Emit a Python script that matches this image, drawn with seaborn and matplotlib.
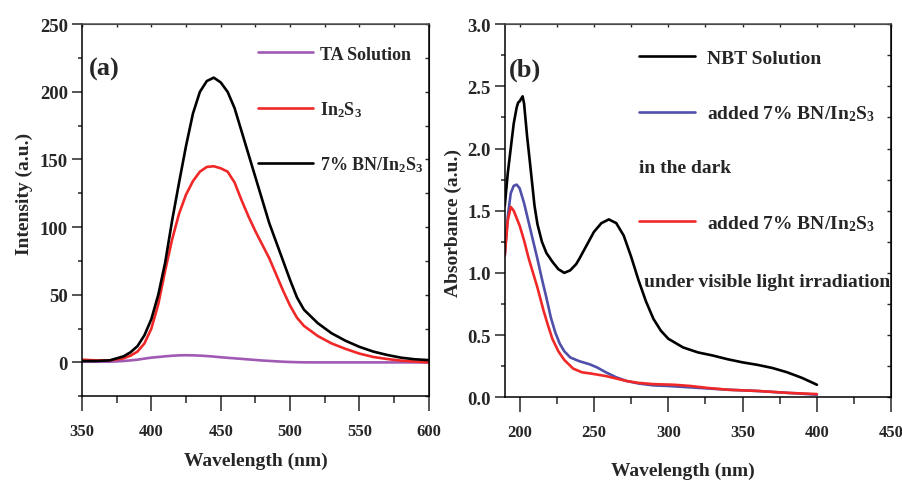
import seaborn as sns
import matplotlib.pyplot as plt
from matplotlib.lines import Line2D
from matplotlib.ticker import MultipleLocator
from matplotlib.font_manager import FontProperties

# (a) fluorescence of TA
wl_a = [350, 360, 370, 380, 385, 390, 395, 400, 405, 410, 415, 420, 425, 430, 435,
        440, 445, 450, 455, 460, 465, 470, 475, 480, 485, 490, 495, 500, 505, 510,
        520, 530, 540, 550, 560, 570, 580, 590, 600]
ta_sol = [0.5, 0.5, 0.5, 1, 1.5, 2, 2.8, 3.5, 4, 4.5, 4.9, 5.2, 5.3, 5.2, 5,
          4.7, 4.3, 3.8, 3.4, 3, 2.6, 2.2, 1.8, 1.4, 1.1, 0.8, 0.5, 0.3, 0.15, 0.05,
          0, 0, 0, 0, 0, 0, 0, 0, 0]
in2s3 = [2, 1.5, 1.5, 3, 5, 8, 14, 25, 43, 68, 91, 110, 124, 134, 141,
         144.5, 145, 143.5, 141, 133, 120, 108, 97, 87, 77, 65, 53, 42, 33, 27,
         19.5, 14, 10, 6.5, 4, 2.5, 1.3, 0.6, 0]
bn_in2s3 = [1, 1, 1.5, 4.5, 7.5, 12, 20, 32, 50, 74, 105, 133, 160, 184, 200,
            208, 210.5, 207, 200, 188, 171, 154, 137, 120, 103, 89, 75, 61, 48, 39,
            29, 21.5, 16, 11.5, 8, 5.5, 3.5, 2.3, 1.7]

# (b) NBT absorbance
wl_nbt = [190, 192, 194, 196, 198, 199, 200, 202, 203, 205, 207, 210, 212, 215, 218,
          222, 226, 230, 234, 238, 240, 245, 250, 255, 260, 265, 270, 275, 280, 285,
          290, 295, 300, 310, 320, 330, 340, 350, 360, 370, 380, 390, 400]
nbt = [1.54, 1.8, 2.0, 2.2, 2.33, 2.37, 2.38, 2.42, 2.36, 2.1, 1.88, 1.54, 1.39, 1.25, 1.16,
       1.09, 1.03, 1.00, 1.02, 1.07, 1.11, 1.22, 1.33, 1.40, 1.43, 1.40, 1.30, 1.13, 0.94, 0.77,
       0.63, 0.535, 0.47, 0.40, 0.36, 0.335, 0.305, 0.28, 0.26, 0.235, 0.20, 0.155, 0.10]
wl_dark = [190, 192, 194, 196, 198, 200, 203, 206, 209, 212, 215, 218, 221, 224, 227,
           230, 234, 240, 247, 252, 258, 265, 272, 280, 290, 300, 320, 340, 360, 380, 400]
dark = [1.14, 1.45, 1.64, 1.70, 1.71, 1.68, 1.56, 1.41, 1.26, 1.11, 0.95, 0.80, 0.64, 0.52, 0.43,
        0.37, 0.32, 0.29, 0.265, 0.24, 0.20, 0.16, 0.13, 0.11, 0.095, 0.09, 0.075, 0.06, 0.05, 0.035, 0.02]
wl_light = [190, 192, 194, 196, 198, 200, 203, 206, 209, 212, 216, 219, 222, 226, 230,
            236, 242, 248, 258, 265, 272, 280, 290, 304, 315, 326, 340, 360, 380, 400]
light = [1.14, 1.42, 1.53, 1.50, 1.44, 1.38, 1.26, 1.12, 1.00, 0.88, 0.70, 0.58, 0.47, 0.37, 0.30,
         0.23, 0.20, 0.19, 0.17, 0.15, 0.13, 0.115, 0.105, 0.10, 0.09, 0.075, 0.06, 0.05, 0.035, 0.025]

sns.set_style('ticks')
plt.rcParams['font.family'] = ['Liberation Serif', 'DejaVu Serif']
plt.rcParams['font.weight'] = 'bold'
plt.rcParams['mathtext.fontset'] = 'custom'
plt.rcParams['mathtext.rm'] = 'Liberation Serif:bold'
plt.rcParams['mathtext.it'] = 'Liberation Serif:bold'
plt.rcParams['mathtext.bf'] = 'Liberation Serif:bold'

PURPLE = '#a05ab4'
RED = '#f02828'
BLUE = '#5050aa'
LW = 1.9
sub = 'In$_2$S$_3$'

fig = plt.figure(figsize=(9.03, 4.85), dpi=100)
ax1 = fig.add_axes([0.0908, 0.181, 0.384, 0.767])
ax2 = fig.add_axes([0.559, 0.179, 0.428, 0.769])


def style(ax, xmaj, xmin, ymaj, ymin, xls, yls):
    for s in ax.spines.values():
        s.set_linewidth(1.1)
        s.set_color('black')
    ax.spines['top'].set_color('#555555')
    ax.xaxis.set_major_locator(MultipleLocator(xmaj))
    ax.xaxis.set_minor_locator(MultipleLocator(xmin))
    ax.yaxis.set_major_locator(MultipleLocator(ymaj))
    ax.yaxis.set_minor_locator(MultipleLocator(ymin))
    ax.tick_params(axis='x', which='major', direction='out', length=11, width=1.1,
                   labelsize=xls, pad=8)
    ax.tick_params(axis='x', which='minor', direction='out', length=5, width=1.1)
    ax.tick_params(axis='y', which='major', direction='out', length=7, width=1.1,
                   labelsize=yls, pad=3)
    ax.tick_params(axis='y', which='minor', direction='out', length=3, width=1.1)
    top = ax.secondary_xaxis('top')
    top.xaxis.set_major_locator(MultipleLocator(xmin))
    top.tick_params(direction='in', length=2, width=1, labelsize=0, labeltop=False)
    right = ax.secondary_yaxis('right')
    right.yaxis.set_major_locator(MultipleLocator(ymin))
    right.tick_params(direction='in', length=3, width=1, labelsize=0, labelright=False)


# ---- (a)
sns.lineplot(x=wl_a, y=ta_sol, ax=ax1, color=PURPLE, lw=LW, label='TA Solution')
sns.lineplot(x=wl_a, y=in2s3, ax=ax1, color=RED, lw=LW, label=sub)
sns.lineplot(x=wl_a, y=bn_in2s3, ax=ax1, color='black', lw=LW, label='7% BN/' + sub)
ax1.set_xlim(350, 600)
ax1.set_ylim(-25, 250)
style(ax1, 50, 25, 50, 25, 12, 13.5)
ax1.set_xlabel('Wavelength (nm)', fontsize=14, fontweight='bold')
ax1.set_ylabel('Intensity (a.u.)', fontsize=14, fontweight='bold')
ax1.xaxis.set_label_coords(0.501, -0.149)
ax1.yaxis.set_label_coords(-0.141, 0.546)
ax1.text(0.02, 0.88, '(a)', transform=ax1.transAxes, fontsize=19, fontweight='bold',
         va='center', ha='left')
leg_font = FontProperties(family='Liberation Serif', weight='bold', size=13)
ax1.legend(loc='upper left', bbox_to_anchor=(0.507, 0.942), frameon=False,
           borderpad=0, borderaxespad=0, handlelength=3.05, handletextpad=0.4,
           labelspacing=2.0, prop=leg_font)

# ---- (b)
sns.lineplot(x=wl_nbt, y=nbt, ax=ax2, color='black', lw=LW)
sns.lineplot(x=wl_dark, y=dark, ax=ax2, color=BLUE, lw=LW)
sns.lineplot(x=wl_light, y=light, ax=ax2, color=RED, lw=LW)
ax2.set_xlim(190, 450)
ax2.set_ylim(0, 3.0)
style(ax2, 50, 25, 0.5, 0.25, 12, 13.5)
ax2.yaxis.set_major_formatter(plt.FormatStrFormatter('%.1f'))
ax2.set_xlabel('Wavelength (nm)', fontsize=14, fontweight='bold')
ax2.set_ylabel('Absorbance (a.u.)', fontsize=14, fontweight='bold')
ax2.xaxis.set_label_coords(0.461, -0.174)
ax2.yaxis.set_label_coords(-0.111, 0.469)
ax2.text(0.01, 0.88, '(b)', transform=ax2.transAxes, fontsize=19, fontweight='bold',
         va='center', ha='left')
handles = [Line2D([], [], color='black', lw=LW), Line2D([], [], color=BLUE, lw=LW),
           Line2D([], [], color='none'), Line2D([], [], color=RED, lw=LW)]
labels = ['NBT Solution', 'added 7% BN/' + sub, ' ', 'added 7% BN/' + sub]
leg_font2 = FontProperties(family='Liberation Serif', weight='bold', size=14)
ax2.legend(handles, labels, loc='upper left', bbox_to_anchor=(0.347, 0.932), frameon=False,
           borderpad=0, borderaxespad=0, handlelength=2.9, handletextpad=0.6,
           labelspacing=1.86, prop=leg_font2)
ax2.text(0.347, 0.617, 'in the dark', transform=ax2.transAxes, fontsize=14,
         fontweight='bold', va='center', ha='left')
ax2.text(0.36, 0.311, 'under visible light irradiation', transform=ax2.transAxes,
         fontsize=14, fontweight='bold', va='center', ha='left')

fig.savefig('out.png', dpi=100)
